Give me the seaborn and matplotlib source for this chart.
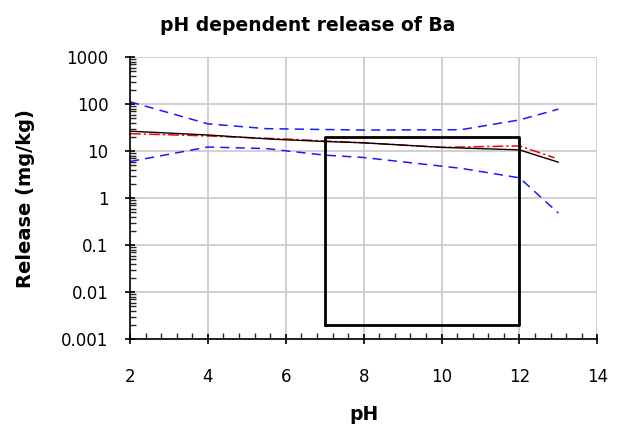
import numpy as np
import pandas as pd
import seaborn as sns
from matplotlib import pyplot as plt
from matplotlib.ticker import FixedLocator, LogLocator, MultipleLocator, FuncFormatter

## DATA ##
ph_model = [2, 4, 5.6, 7, 8, 10, 12, 13]
rel_model = [26.5, 22, 18, 16, 15, 12, 10.6, 5.8]

ph_meas = [2, 4, 6, 8, 10, 12, 12.9]
rel_meas = [23.5, 21, 18, 15, 12, 12.9, 7.2]

ph_upper = [2, 4, 5.5, 8, 10.5, 12, 13]
rel_upper = [112, 38, 30, 28, 28.5, 46, 78]

ph_lower = [2, 4, 5.5, 7, 8, 10.5, 12, 13]
rel_lower = [6, 12.2, 11.3, 8.2, 7.3, 4.3, 2.7, 0.48]

# pH window box (corners)
box_ph = [7, 7, 12, 12, 7]
box_rel = [0.002, 20, 20, 0.002, 0.002]

sns.set_style("white")
plt.rcParams['font.family'] = ['DejaVu Sans']
plt.rcParams['text.color'] = 'black'
plt.rcParams['axes.labelcolor'] = 'black'

fig = plt.figure(figsize=(6.19, 4.26), dpi=100)
ax = fig.add_axes([0.21, 0.204, 0.755, 0.662])

sns.lineplot(x=ph_upper, y=rel_upper, ax=ax, color="#1a1aff", lw=1.1,
             linestyle=(0, (6, 4)))
sns.lineplot(x=ph_lower, y=rel_lower, ax=ax, color="#1a1aff", lw=1.1,
             linestyle=(0, (6, 4)))
sns.lineplot(x=ph_meas, y=rel_meas, ax=ax, color="red", lw=1.1,
             linestyle=(0, (7, 2, 1.5, 2)))
sns.lineplot(x=ph_model, y=rel_model, ax=ax, color="black", lw=1.0)
sns.lineplot(x=box_ph, y=box_rel, ax=ax, color="black", lw=2, sort=False,
             estimator=None)

ax.set_yscale("log")
ax.set_xlim(2, 14)
ax.set_ylim(0.001, 1000)
ax.xaxis.set_major_locator(MultipleLocator(2))
ax.xaxis.set_minor_locator(MultipleLocator(0.4))
ax.yaxis.set_major_locator(FixedLocator([0.001, 0.01, 0.1, 1, 10, 100, 1000]))
ax.yaxis.set_minor_locator(LogLocator(base=10, subs=np.arange(2, 10)))
ax.yaxis.set_major_formatter(FuncFormatter(lambda v, p: f"{v:g}"))

ax.grid(True, which="major", color="#c8c8c8", lw=1.2)
ax.set_axisbelow(True)
for s in ["top", "right"]:
    ax.spines[s].set_visible(False)
for s in ["left", "bottom"]:
    ax.spines[s].set_color("black")
    ax.spines[s].set_linewidth(1.2)

ax.tick_params(which="major", direction="inout", length=7, width=1.2,
               labelsize=12, colors="black", left=True, bottom=True)
ax.tick_params(which="minor", direction="in", length=4, width=1,
               left=True, bottom=True)
ax.tick_params(axis="x", pad=17)
ax.tick_params(axis="y", pad=12)

ax.set_xlabel("pH", fontsize=13.5, fontweight="bold", labelpad=14)
ax.set_ylabel("Release (mg/kg)", fontsize=14, fontweight="bold", labelpad=19)
fig.text(0.497, 0.941, "pH dependent release of Ba", ha="center", va="center",
         fontsize=13.5, fontweight="bold")

fig.savefig("out.png", dpi=100)
